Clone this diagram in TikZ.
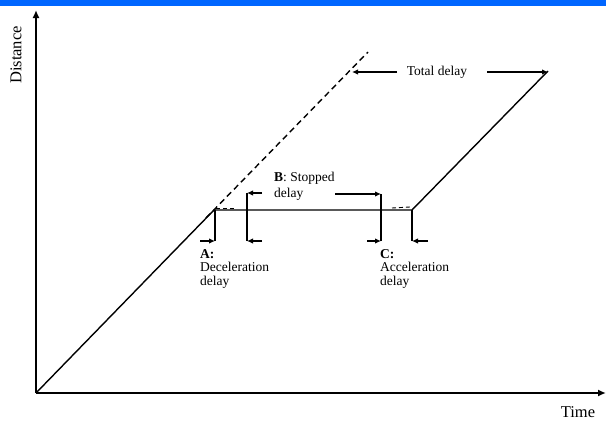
\documentclass[tikz,border=0pt]{standalone}
\usepackage{fontspec}
\setmainfont{Liberation Serif}
\usetikzlibrary{arrows.meta}
\definecolor{topblue}{RGB}{0,102,255}
\begin{document}
\begin{tikzpicture}[x=1pt,y=-1pt,
  axis/.style={line width=2pt,-{Latex[length=8pt,width=7pt]}},
  curve/.style={line width=1.4pt},
  dimarrow/.style={line width=1.4pt,-{Latex[length=6pt,width=5.5pt]}},
  bar/.style={line width=1.4pt},
  lbl/.style={inner sep=0pt,align=left,font=\fontsize{13.5}{13.5}\selectfont},
  axlbl/.style={inner sep=0pt,font=\fontsize{16.5}{17}\selectfont}]
\useasboundingbox (0,0) rectangle (606,423);
\fill[topblue] (0,0) rectangle (606,6);
% axes
\coordinate (O) at (36,393);
\coordinate (Ytop) at (36,10);
\coordinate (Xend) at (606,393);
\draw[axis] (O) -- (Ytop);
\draw[axis] (O) -- (Xend);
\node[axlbl,rotate=90] (dist) at (16,55) {Distance};
\node[axlbl] (time) at (578,412) {Time};
% trajectory
\coordinate (P1) at (214,210);
\coordinate (P2) at (412,210);
\coordinate (P3) at (548,71);
\coordinate (Dtop) at (368,52);
\coordinate (Dstart) at (206,218);
\draw[curve] (O) -- (P1) -- (P2) -- (P3);
\draw[curve,dashed,dash pattern=on 6pt off 4pt] (Dstart) -- (Dtop);
\draw[line width=0.9pt,dashed,dash pattern=on 4pt off 3pt] (216,208) -- (236,208);
\draw[line width=0.9pt,dashed,dash pattern=on 4pt off 3pt] (392,208) -- (410,207);
% total delay
\node[lbl] (tot) at (437,72) {Total delay};
\coordinate (TLfrom) at (397,72);
\coordinate (TRfrom) at (487,72);
\coordinate (TL) at (352,72);
\coordinate (TR) at (548,72);
\draw[dimarrow] (TLfrom) -- (TL);
\draw[dimarrow] (TRfrom) -- (TR);
% A bracket
\coordinate (Atop) at (215,210);
\coordinate (Abot) at (215,241);
\coordinate (Afrom) at (200,241);
\draw[bar] (Atop) -- (Abot);
\draw[dimarrow] (Afrom) -- (Abot);
% B left bar
\coordinate (BLtop) at (247,193);
\coordinate (BLbot) at (247,241);
\coordinate (BLtopfrom) at (262,193);
\coordinate (BLbotfrom) at (262,241);
\draw[bar] (BLtop) -- (BLbot);
\draw[dimarrow] (BLtopfrom) -- (BLtop);
\draw[dimarrow] (BLbotfrom) -- (BLbot);
% B right bar
\coordinate (BRtop) at (381,194);
\coordinate (BRbot) at (381,241);
\coordinate (BRtopfrom) at (335,194);
\coordinate (BRbotfrom) at (367,241);
\draw[bar] (BRtop) -- (BRbot);
\draw[dimarrow] (BRtopfrom) -- (BRtop);
\draw[dimarrow] (BRbotfrom) -- (BRbot);
% C right bar
\coordinate (Ctop) at (412,210);
\coordinate (Cbot) at (412,241);
\coordinate (Cfrom) at (428,241);
\draw[bar] (Ctop) -- (Cbot);
\draw[dimarrow] (Cfrom) -- (Cbot);
% labels
\node[lbl,anchor=north west,font=\fontsize{13.5}{15.5}\selectfont] (labB) at (274,172) {\textbf{B}: Stopped\\delay};
\node[lbl,anchor=north west] (labA) at (200,249) {\textbf{A:}\\Deceleration\\delay};
\node[lbl,anchor=north west] (labC) at (380,249) {\textbf{C:}\\Acceleration\\delay};
\end{tikzpicture}
\end{document}
